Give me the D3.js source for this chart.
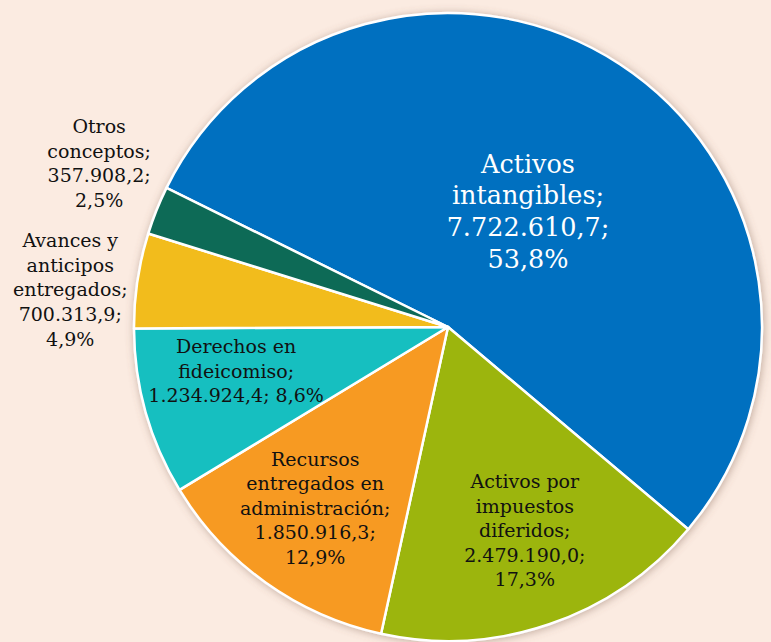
<!DOCTYPE html>
<html>
<head>
<meta charset="utf-8">
<script src="https://cdn.jsdelivr.net/npm/d3@7"></script>
<style>
  html, body { margin: 0; padding: 0; background: #FBEBE1; }
  svg { display: block; }
</style>
</head>
<body>
<svg id="chart" width="771" height="642"></svg>
<script>
// ---- data ----
const categories = [
  "Activos intangibles",
  "Activos por impuestos diferidos",
  "Recursos entregados en administración",
  "Derechos en fideicomiso",
  "Avances y anticipos entregados",
  "Otros conceptos"
];
const values = [7722610.7, 2479190.0, 1850916.3, 1234924.4, 700313.9, 357908.2];
const valueLabels = ["7.722.610,7", "2.479.190,0", "1.850.916,3", "1.234.924,4", "700.313,9", "357.908,2"];
const percentLabels = ["53,8%", "17,3%", "12,9%", "8,6%", "4,9%", "2,5%"];
const colors = ["#0070C0", "#9CB50B", "#F79A23", "#14BFC0", "#F2BC1E", "#0E6B57"];

// label line breaks (text content)
const labelLines = [
  ["Activos", "intangibles;", "7.722.610,7;", "53,8%"],
  ["Activos por", "impuestos", "diferidos;", "2.479.190,0;", "17,3%"],
  ["Recursos", "entregados en", "administración;", "1.850.916,3;", "12,9%"],
  ["Derechos en", "fideicomiso;", "1.234.924,4; 8,6%"],
  ["Avances y", "anticipos", "entregados;", "700.313,9;", "4,9%"],
  ["Otros", "conceptos;", "357.908,2;", "2,5%"]
];

// ---- layout / style ----
const svg = d3.select("#chart");
const cx = 448, cy = 327, R = 314;
const deg = Math.PI / 180;
const start = -63.7 * deg;

const pie = d3.pie().sort(null).value(d => d).startAngle(start).endAngle(start + 2 * Math.PI);
const arcs = pie(values);
const arc = d3.arc().innerRadius(0).outerRadius(R);

const defs = svg.append("defs");
const f = defs.append("filter").attr("id", "shadow")
  .attr("x", "-10%").attr("y", "-10%").attr("width", "120%").attr("height", "120%");
f.append("feDropShadow").attr("dx", 1).attr("dy", 1).attr("stdDeviation", 4)
  .attr("flood-color", "#7a5a48").attr("flood-opacity", 0.45);

const g = svg.append("g").attr("transform", `translate(${cx},${cy})`);

g.append("g").attr("filter", "url(#shadow)")
  .selectAll("path").data(arcs).join("path")
  .attr("d", arc)
  .attr("fill", (d, i) => colors[i])
  .attr("stroke", "#ffffff")
  .attr("stroke-width", 2.5)
  .attr("stroke-linejoin", "round");

// label placement: radius factor and angle tweak relative to slice mid-angle
const labelRadius = [0.448, 0.692, 0.714, 0.689, 1.209, 1.228];
const labelAngleTweak = [1.45, -1.9, 0.8, 4.1, -2.85, 3.4];
const fontSizes = [25.5, 19, 19, 19, 19, 19];
const lineHeights = [31.7, 24.5, 24.5, 24.5, 24.8, 24.5];
const textColors = ["#ffffff", "#111111", "#111111", "#111111", "#111111", "#111111"];

arcs.forEach((d, i) => {
  const mid = (d.startAngle + d.endAngle) / 2 + labelAngleTweak[i] * deg;
  const r = R * labelRadius[i];
  const x = Math.sin(mid) * r;
  const y = -Math.cos(mid) * r;
  const lines = labelLines[i];
  const n = lines.length;
  const t = g.append("text")
    .attr("text-anchor", "middle")
    .attr("font-family", "'DejaVu Serif', serif")
    .attr("font-size", fontSizes[i])
    .attr("fill", textColors[i]);
  lines.forEach((ln, k) => {
    t.append("tspan")
      .attr("x", x)
      .attr("y", y + (k - (n - 1) / 2) * lineHeights[i])
      .attr("dominant-baseline", "central")
      .text(ln);
  });
});
</script>
</body>
</html>
